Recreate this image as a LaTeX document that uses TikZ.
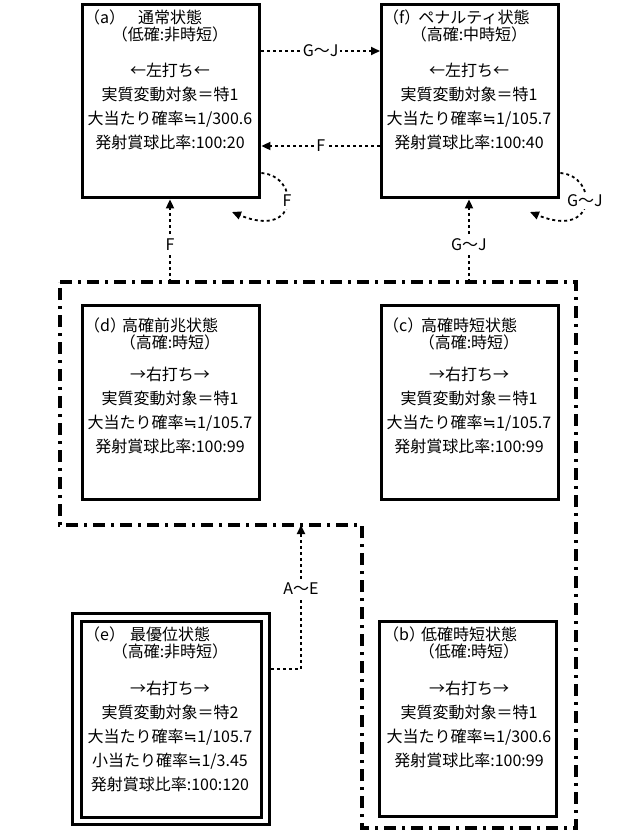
\documentclass[tikz,border=0pt]{standalone}
\usepackage{fontspec}
\setmainfont{Noto Sans CJK JP}
\newfontfamily\symfont{DejaVu Sans}
\newcommand{\approxeq}{{\symfont ≒}}
\usetikzlibrary{arrows.meta,positioning}

\tikzset{
    state/.style={draw, line width=3.4pt, minimum width=177pt, inner sep=0pt},
    txt/.style={font=\fontsize{16}{24}\selectfont, align=center, inner sep=0pt},
    flow/.style={line width=1.8pt, dash pattern=on 3pt off 3pt, -{Triangle[length=9pt,width=8pt]}},
    group/.style={line width=3.4pt, dash pattern=on 12pt off 6pt on 3pt off 6pt},
    lbl/.style={font=\fontsize{16}{16}\selectfont, fill=white, inner sep=2pt},
}

\begin{document}
\begin{tikzpicture}[x=1pt, y=-1pt]
\useasboundingbox (0,0) rectangle (640,836);

% states
\node [state, minimum height=193pt, anchor=north west] (a) at (81,3) {};
\node [state, minimum height=193pt, anchor=north west] (f) at (380,3) {};
\node [state, minimum height=194pt, anchor=north west] (d) at (81,304) {};
\node [state, minimum height=194pt, anchor=north west] (c) at (380,304) {};
\node [state, minimum height=195pt, anchor=north west] (b) at (378,620) {};
\node [state, minimum width=180pt, minimum height=196pt, anchor=north west] (e) at (80,620) {};
\node [draw, line width=3.4pt, minimum width=197pt, minimum height=211pt, anchor=north west, inner sep=0pt] (eo) at (71,612) {};

% texts
\node [txt, anchor=west] (at) at (84,17) {（a）};
\node [txt] (an) at (170,17) {通常状態};
\node [txt] (as) at (170,34) {（低確:非時短）};
\node [txt] (ab) at (170,106) {←左打ち←\\実質変動対象＝特1\\大当たり確率\approxeq1/300.6\\発射賞球比率:100:20};

\node [txt, anchor=west] (ft) at (383,17) {（f）};
\node [txt] (fn) at (474,17) {ペナルティ状態};
\node [txt] (fs) at (469,34) {（高確:中時短）};
\node [txt] (fb) at (469,106) {←左打ち←\\実質変動対象＝特1\\大当たり確率\approxeq1/105.7\\発射賞球比率:100:40};

\node [txt, anchor=west] (dt) at (84,325) {（d）};
\node [txt] (dn) at (170,325) {高確前兆状態};
\node [txt] (ds) at (170,342) {（高確:時短）};
\node [txt] (db) at (170,410) {→右打ち→\\実質変動対象＝特1\\大当たり確率\approxeq1/105.7\\発射賞球比率:100:99};

\node [txt, anchor=west] (ct) at (383,325) {（c）};
\node [txt] (cn) at (469,325) {高確時短状態};
\node [txt] (cs) at (469,342) {（高確:時短）};
\node [txt] (cb) at (469,410) {→右打ち→\\実質変動対象＝特1\\大当たり確率\approxeq1/105.7\\発射賞球比率:100:99};

\node [txt, anchor=west] (et) at (84,634) {（e）};
\node [txt] (en) at (170,634) {最優位状態};
\node [txt] (es) at (170,651) {（高確:非時短）};
\node [txt] (eb) at (170,736) {→右打ち→\\実質変動対象＝特2\\大当たり確率\approxeq1/105.7\\小当たり確率\approxeq1/3.45\\発射賞球比率:100:120};

\node [txt, anchor=west] (bt) at (383,634) {（b）};
\node [txt] (bn) at (469,634) {低確時短状態};
\node [txt] (bs) at (469,651) {（低確:時短）};
\node [txt] (bb) at (469,724) {→右打ち→\\実質変動対象＝特1\\大当たり確率\approxeq1/300.6\\発射賞球比率:100:99};

% group of (d), (c), (b)
\coordinate (g1) at (170,282);
\coordinate (g2) at (469,282);
\coordinate (g3) at (301,525);
\draw [group] (60,282) -- (576,282) -- (576,828) -- (362,828) -- (362,525) -- (60,525) -- cycle;

% transitions
\draw [flow] (a.east |- 0,51) -- node [lbl] {G～J} (f.west |- 0,51);
\draw [flow] (f.west |- 0,146) -- node [lbl] {F} (a.east |- 0,146);
\draw [flow] (g1) -- node [lbl, pos=.45] {F} (a.south -| g1);
\draw [flow] (g2) -- node [lbl, pos=.45] {G～J} (f.south -| g2);
\draw [flow] (eo.east |- 0,669) -| (g3);
\node [lbl] (ae) at (301,589) {A～E};
\draw [flow] (a.east |- 0,173) .. controls (300,176) and (300,240) .. (232,212);
\node [lbl] (al) at (287,201) {F};
\draw [flow] (f.east |- 0,173) .. controls (598,176) and (598,240) .. (530,212);
\node [lbl] (fl) at (585,201) {G～J};
\end{tikzpicture}
\end{document}
